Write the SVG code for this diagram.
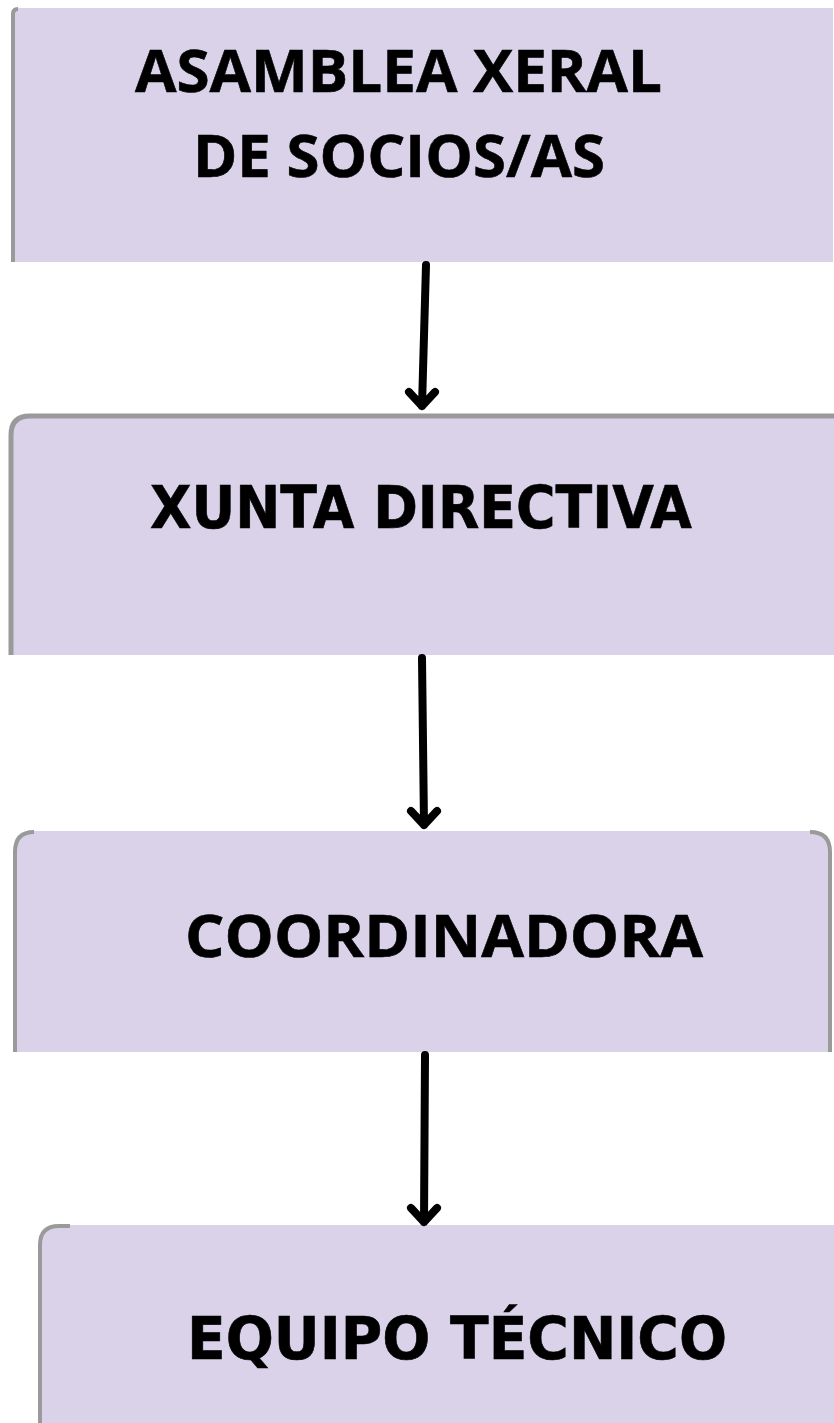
<svg xmlns="http://www.w3.org/2000/svg" width="834" height="1423" viewBox="0 0 834 1423">
<defs>
<style>
.box{fill:#d9d2e9;stroke:none}
.edge{fill:none;stroke:#9a9a9a;stroke-width:4}
.lbl{font-family:"Open Sans","Liberation Sans",sans-serif;font-weight:700;font-size:59px;fill:#000;stroke:#000;stroke-width:0.6}
.dv{font-family:"DejaVu Sans","Liberation Sans",sans-serif;font-weight:700;font-size:58px;fill:#000;stroke:#000;stroke-width:0.6}
.conn{fill:none;stroke:#000;stroke-width:8;stroke-linecap:round;stroke-linejoin:round}
</style>
</defs>
<rect width="834" height="1423" fill="#fff"/>
<g id="node-asamblea">
<path class="box" d="M16,8 H833 V262 H12 V12 Q12,8 16,8 Z"/>
<path class="edge" d="M13,262 V14 Q13,9 18,9"/>
<text class="lbl" x="135" y="92" textLength="527" lengthAdjust="spacingAndGlyphs">ASAMBLEA XERAL</text>
<text class="lbl" x="193" y="177" textLength="412" lengthAdjust="spacingAndGlyphs">DE SOCIOS/AS</text>
</g>
<g id="node-xunta">
<path class="box" d="M30,415 H834 V655 H10 V435 Q10,415 30,415 Z"/>
<path class="edge" d="M11,655 V435 Q11,416 30,416 H834" style="stroke-width:5"/>
<text class="dv" x="150" y="528" textLength="542" lengthAdjust="spacingAndGlyphs">XUNTA DIRECTIVA</text>
</g>
<g id="node-coordinadora">
<path class="box" d="M33,831 H811 Q831,831 831,851 V1052 H14 V851 Q14,831 33,831 Z"/>
<path class="edge" d="M15,1052 V852 Q15,832 34,832 M810,832 Q830,832 830,852 V1052"/>
<text class="lbl" x="185" y="957" textLength="518" lengthAdjust="spacingAndGlyphs">COORDINADORA</text>
</g>
<g id="node-equipo">
<path class="box" d="M58,1225 H834 V1423 H39 V1244 Q39,1225 58,1225 Z"/>
<path class="edge" d="M40,1423 V1245 Q40,1226 59,1226 H70"/>
<text class="dv" x="187" y="1359" textLength="540" lengthAdjust="spacingAndGlyphs">EQUIPO TÉCNICO</text>
</g>
<g id="connectors">
<path class="conn" d="M426,265 L422,406 M409,392 L422,406 L435,392"/>
<path class="conn" d="M422,658 L424,825 M411,811 L424,825 L437,811"/>
<path class="conn" d="M425,1055 L424,1222 M411,1208 L424,1222 L437,1208"/>
</g>
</svg>
